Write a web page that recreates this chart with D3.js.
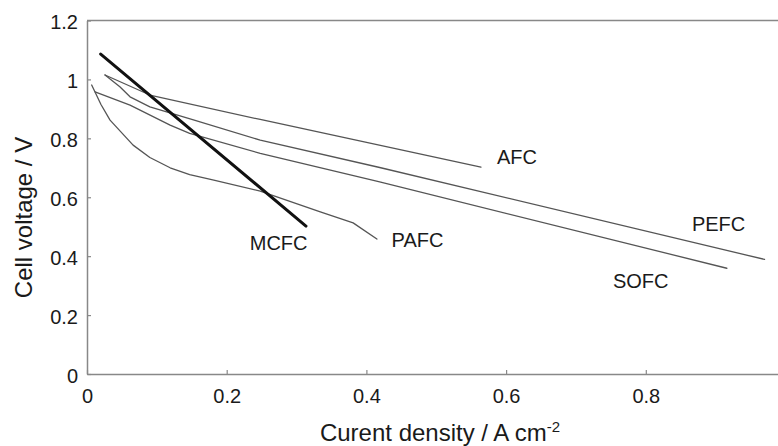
<!DOCTYPE html>
<html>
<head>
<meta charset="utf-8">
<script src="https://cdn.jsdelivr.net/npm/d3@7"></script>
<style>
  body { margin: 0; background: #fff; }
  svg text { font-family: "Liberation Sans", Arial, Helvetica, sans-serif; fill: #1a1a1a; }
</style>
</head>
<body>
<svg id="chart" width="778" height="446"></svg>
<script>
// values (current density A/cm2, cell voltage V)
var afc = [[0.0258, 1.015], [0.090, 0.947], [0.248, 0.864], [0.564, 0.702]];
var pefc = [[0.0258, 1.015], [0.047, 0.975], [0.0616, 0.941], [0.090, 0.907],
  [0.150, 0.864], [0.248, 0.794], [0.419, 0.701], [0.970, 0.389]];
var sofc = [[0.0115, 0.958], [0.0616, 0.913], [0.119, 0.845], [0.147, 0.817],
  [0.248, 0.749], [0.419, 0.652], [0.916, 0.359]];
var pafc = [[0.0067, 0.981], [0.020, 0.915], [0.033, 0.862], [0.066, 0.777],
  [0.090, 0.735], [0.119, 0.700], [0.147, 0.677], [0.180, 0.659], [0.248, 0.621],
  [0.334, 0.550], [0.381, 0.513], [0.415, 0.458]];
var mcfc = [[0.0196, 1.086], [0.3135, 0.502]];

var seriesNames = ['AFC', 'PEFC', 'SOFC', 'PAFC', 'MCFC'];
var seriesValues = [afc, pefc, sofc, pafc, mcfc];
// where each name sits, in data units
var labelAnchors = [[0.587, 0.713], [0.866, 0.485], [0.753, 0.292], [0.436, 0.432], [0.233, 0.421]];

var xTicks = [0, 0.2, 0.4, 0.6, 0.8, 1];
var yTicks = [0, 0.2, 0.4, 0.6, 0.8, 1, 1.2];

var svg = d3.select('#chart');
var x = d3.scaleLinear().domain([0, 1]).range([87, 785.5]);
var y = d3.scaleLinear().domain([0, 1.2]).range([374, 20.5]);
var fmt = d3.format('~g');

// frame (top and right edges; right one falls just off the picture)
svg.append('path')
  .attr('d', 'M' + x(0) + ',' + y(1.2) + 'H' + x(1) + 'V' + y(0))
  .attr('fill', 'none').attr('stroke', '#888').attr('stroke-width', 1.5);

// the "1" label would sit off the right edge, so only its tick is drawn
var xAxis = svg.append('g')
  .attr('transform', 'translate(0,' + y(0) + ')')
  .call(d3.axisBottom(x).tickValues(xTicks)
    .tickFormat(function(d) { return d < 1 ? fmt(d) : ''; })
    .tickSizeInner(-4).tickSizeOuter(0).tickPadding(15));

var yAxis = svg.append('g')
  .attr('transform', 'translate(' + x(0) + ',0)')
  .call(d3.axisLeft(y).tickValues(yTicks).tickFormat(fmt)
    .tickSizeInner(-4).tickSizeOuter(0).tickPadding(9));

[xAxis, yAxis].forEach(function(g) {
  g.select('.domain').attr('stroke', '#888').attr('stroke-width', 1.5);
  g.selectAll('.tick line').attr('stroke', '#888').attr('stroke-width', 1.2);
  g.selectAll('.tick text').style('font-size', '20px').attr('fill', '#1a1a1a');
});
yAxis.selectAll('.tick text').attr('dy', '0.42em');

var line = d3.line()
  .x(function(d) { return x(d[0]); })
  .y(function(d) { return y(d[1]); });

svg.append('g').selectAll('path')
  .data(seriesValues)
  .enter().append('path')
  .attr('d', line)
  .attr('fill', 'none')
  .attr('stroke', function(d, i) { return seriesNames[i] === 'MCFC' ? '#111' : '#555'; })
  .attr('stroke-width', function(d, i) { return seriesNames[i] === 'MCFC' ? 3 : 1.3; })
  .attr('stroke-linecap', 'round')
  .attr('stroke-linejoin', 'round');

svg.append('g').selectAll('text')
  .data(seriesNames)
  .enter().append('text')
  .attr('x', function(d, i) { return x(labelAnchors[i][0]); })
  .attr('y', function(d, i) { return y(labelAnchors[i][1]); })
  .style('font-size', '20px')
  .text(function(d) { return d; });

// axis titles
var xt = svg.append('text')
  .attr('x', 440).attr('y', 441)
  .attr('text-anchor', 'middle')
  .style('font-size', '24px')
  .text('Curent density / A cm');
xt.append('tspan').attr('dy', -9).style('font-size', '15px').text('-2');

svg.append('text')
  .attr('transform', 'translate(32,217.5) rotate(-90)')
  .attr('text-anchor', 'middle')
  .style('font-size', '24px')
  .text('Cell voltage / V');
</script>
</body>
</html>
